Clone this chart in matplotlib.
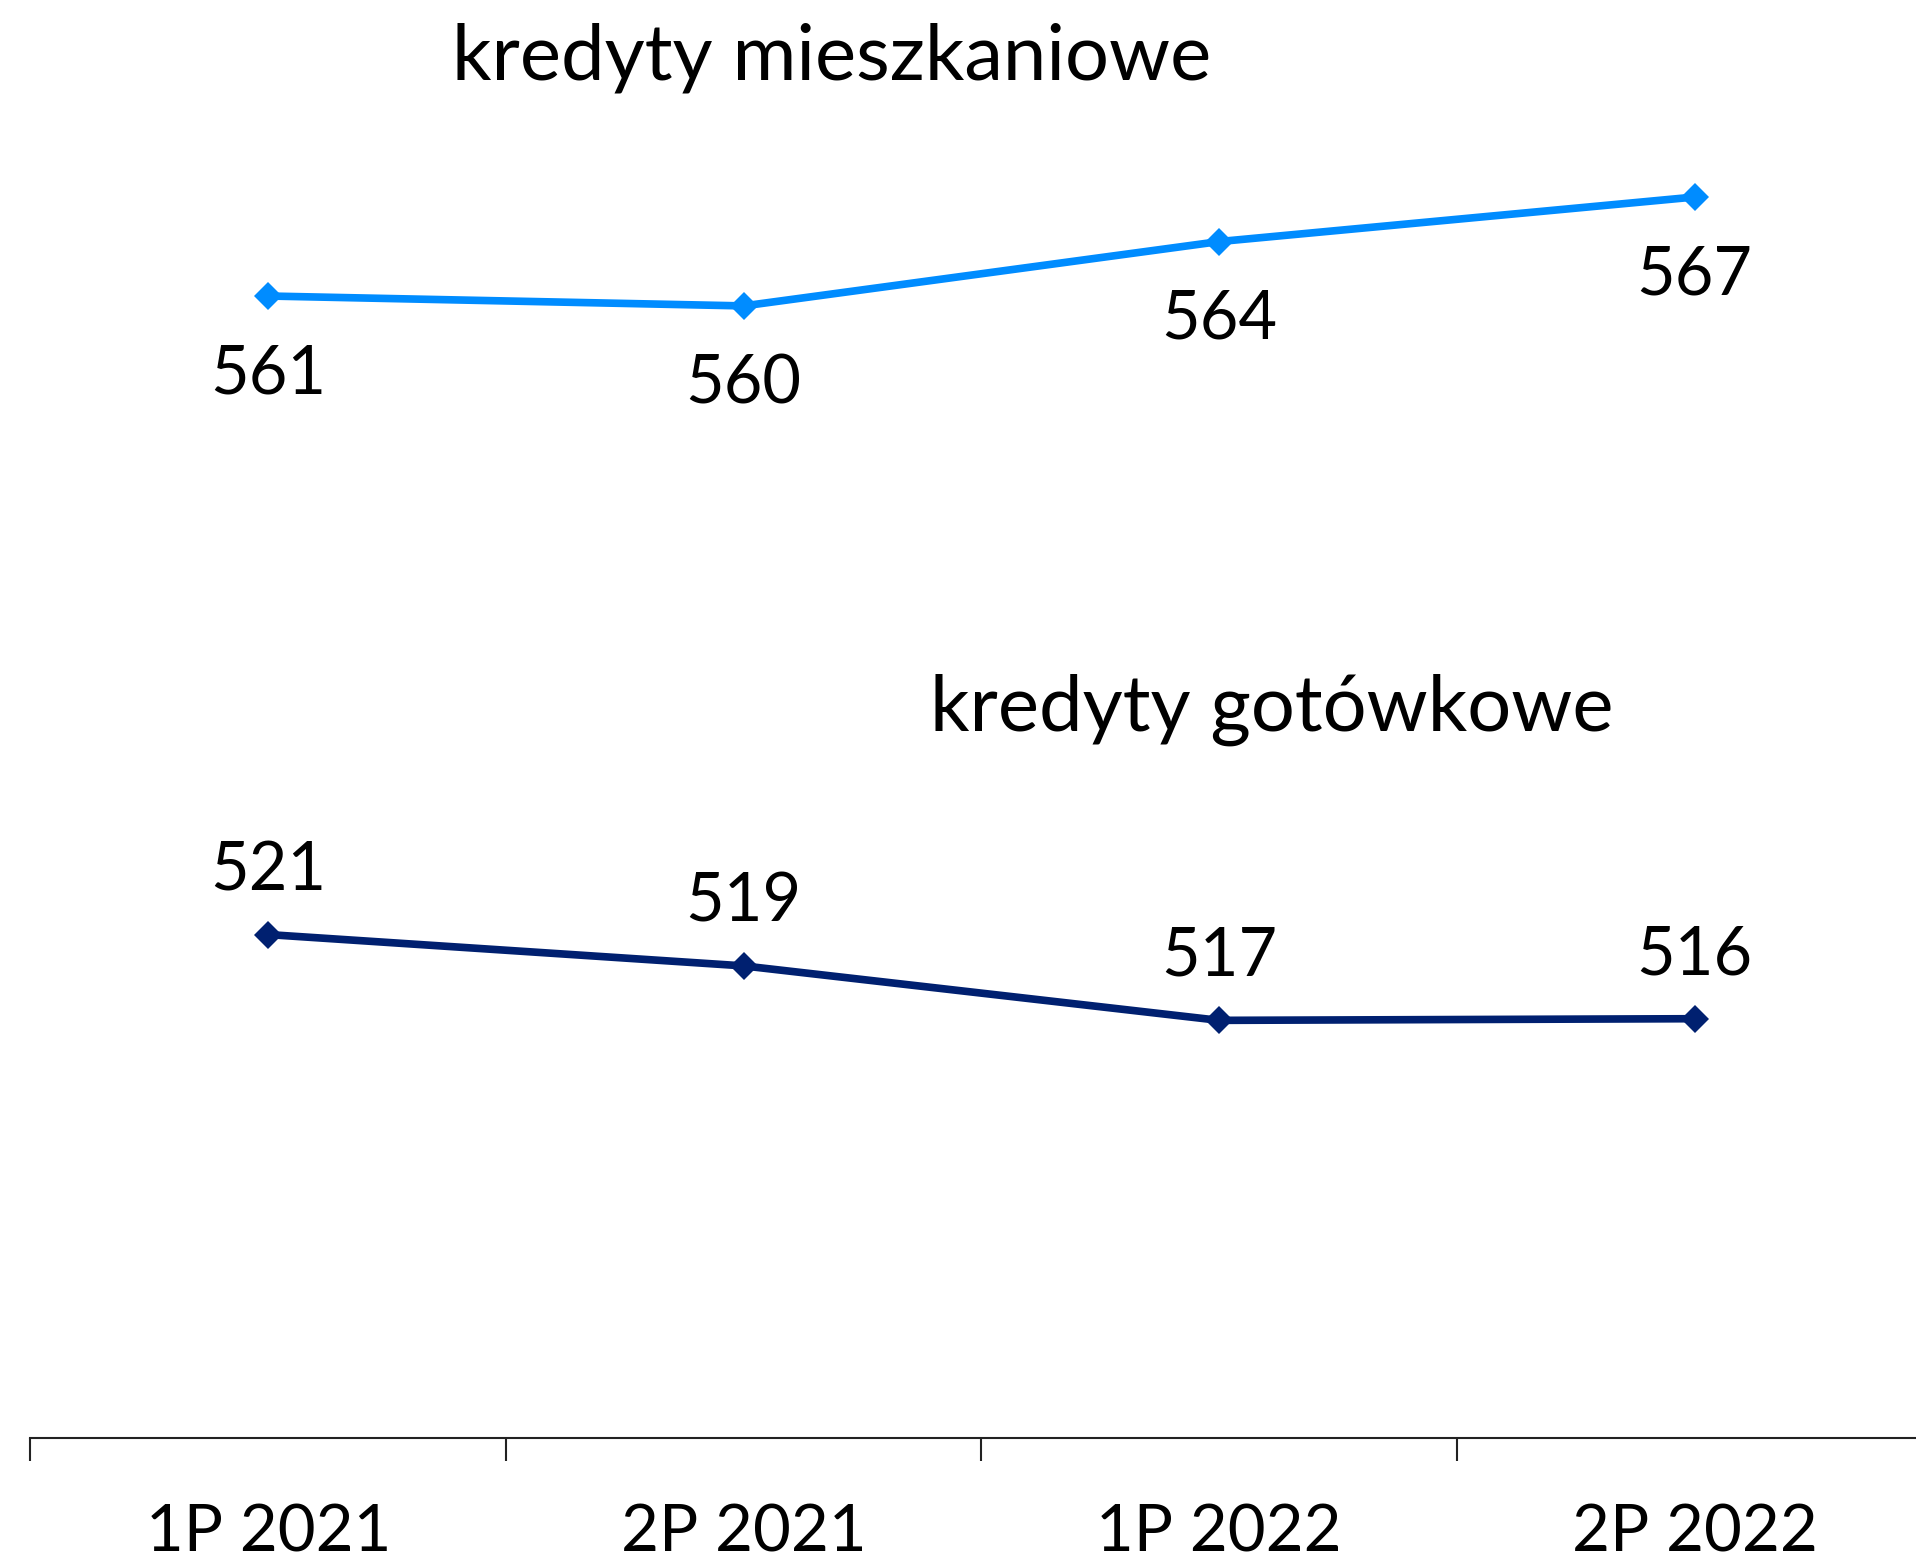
import matplotlib.pyplot as plt

# dane
okresy = ['1P 2021', '2P 2021', '1P 2022', '2P 2022']
# polozenie punktow
mieszkaniowe = [561.0, 560.4, 564.3, 567.0]
gotowkowe = [522.3, 520.4, 517.1, 517.2]
# etykiety danych
etykiety_mieszk = ['561', '560', '564', '567']
etykiety_gotow = ['521', '519', '517', '516']

plt.rcParams['font.family'] = ['Lato', 'DejaVu Sans']

fig = plt.figure(figsize=(19.16, 15.62), dpi=100)
ax = fig.add_axes([0.0159, 0.0794, 0.9927, 0.9206])

x = list(range(len(okresy)))
ax.plot(x, mieszkaniowe, color='#008CFF', linewidth=5.5, marker='D',
        markersize=14.5, markeredgewidth=0)
ax.plot(x, gotowkowe, color='#002070', linewidth=5.5, marker='D',
        markersize=14.5, markeredgewidth=0)

# etykiety pod/nad punktami
for i in x:
    ax.annotate(etykiety_mieszk[i], (x[i], mieszkaniowe[i]), xytext=(0, -70),
                textcoords='offset points', ha='center', va='baseline', fontsize=48)
    ax.annotate(etykiety_gotow[i], (x[i], gotowkowe[i]), xytext=(0, 32),
                textcoords='offset points', ha='center', va='baseline', fontsize=48)

fig.text(0.434, 0.949, 'kredyty mieszkaniowe', ha='center', va='baseline', fontsize=56)
fig.text(0.664, 0.532, 'kredyty gotówkowe', ha='center', va='baseline', fontsize=56)

ax.set_xlim(-0.5, 3.5)
ax.set_ylim(491.79, 578.94)

for s in ['top', 'right', 'left']:
    ax.spines[s].set_visible(False)
ax.spines['bottom'].set_linewidth(1.5)
ax.spines['bottom'].set_color('#222222')

ax.set_yticks([])
ax.set_xticks([-0.5, 0.5, 1.5, 2.5, 3.5])
ax.set_xticklabels([])
ax.set_xticks(x, minor=True)
ax.set_xticklabels(okresy, minor=True, fontsize=47)
ax.tick_params(axis='x', which='major', length=16.5, width=1.5, color='#222222')
ax.tick_params(axis='x', which='minor', length=0, pad=47)

fig.savefig('out.png', dpi=100)
